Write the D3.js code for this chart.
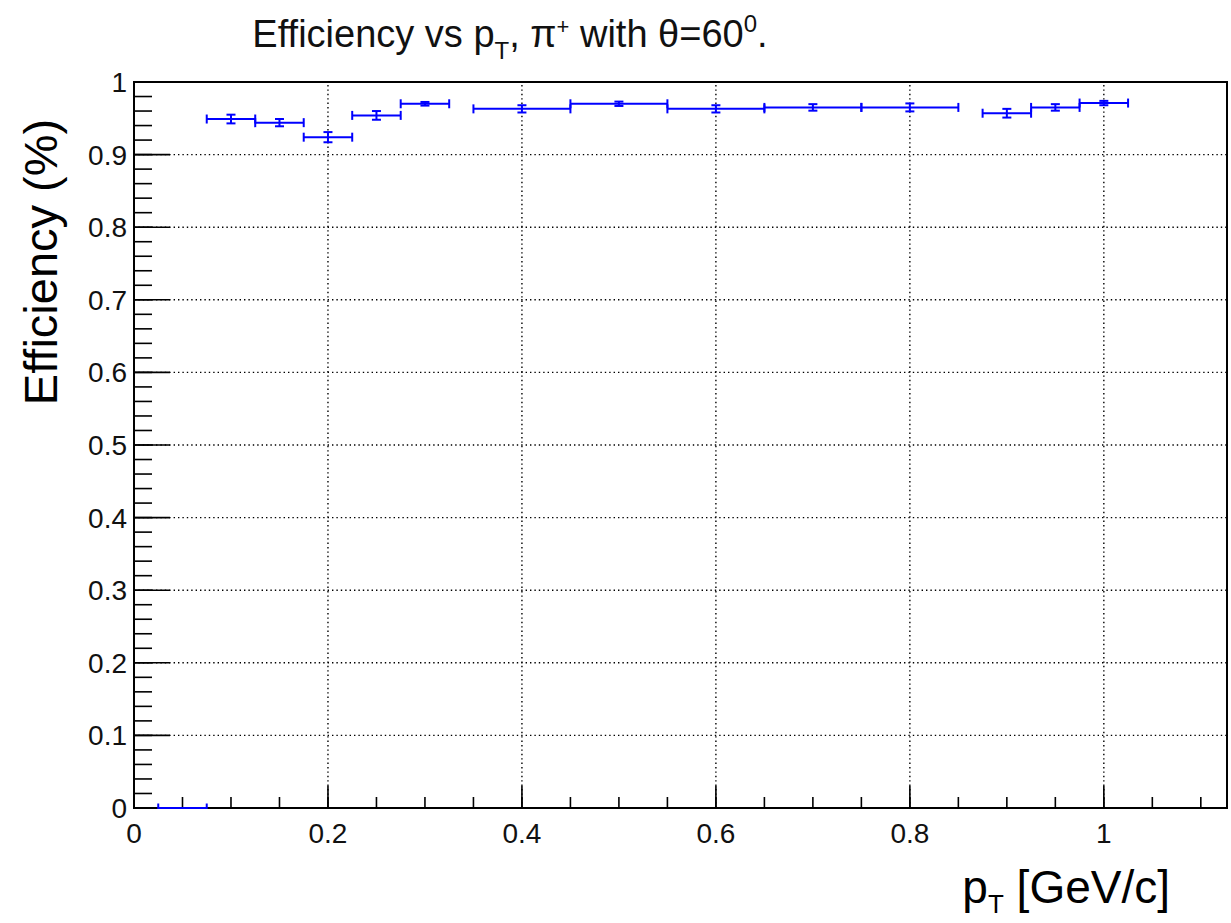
<!DOCTYPE html>
<html><head><meta charset="utf-8">
<script src="https://cdn.jsdelivr.net/npm/d3@7"></script>
<style>body{margin:0;background:#fff}svg{display:block}text{font-family:"Liberation Sans",Arial,sans-serif}</style>
</head><body><div id="c"></div>
<script>
const ptCenter = [0.05, 0.1, 0.15, 0.2, 0.25, 0.3, 0.4, 0.5, 0.6, 0.7, 0.8, 0.9, 0.95, 1.0];
const ptLow    = [0.025, 0.075, 0.125, 0.175, 0.225, 0.275, 0.35, 0.45, 0.55, 0.65, 0.75, 0.875, 0.925, 0.975];
const ptHigh   = [0.075, 0.125, 0.175, 0.225, 0.275, 0.325, 0.45, 0.55, 0.65, 0.75, 0.85, 0.925, 0.975, 1.025];
const efficiency = [0, 0.949, 0.944, 0.924, 0.954, 0.970, 0.963, 0.970, 0.963, 0.965, 0.965, 0.957, 0.965, 0.971];
const effError   = [0, 0.006, 0.005, 0.007, 0.006, 0.0025, 0.005, 0.003, 0.005, 0.0045, 0.0055, 0.006, 0.0045, 0.003];
const xMajorTicks = [0, 0.2, 0.4, 0.6, 0.8, 1];
const xTickLabels = ["0", "0.2", "0.4", "0.6", "0.8", "1"];
const yMajorTicks = [0, 0.1, 0.2, 0.3, 0.4, 0.5, 0.6, 0.7, 0.8, 0.9, 1];
const yTickLabels = ["0", "0.1", "0.2", "0.3", "0.4", "0.5", "0.6", "0.7", "0.8", "0.9", "1"];
const xDomain = [0, 1.127];
const yDomain = [0, 1];

const W = 1231, H = 923;
const L = 134, R = 1227, T = 82, B = 808;
const svg = d3.select("#c").append("svg").attr("width", W).attr("height", H);
const x = d3.scaleLinear().domain(xDomain).range([L, R]);
const y = d3.scaleLinear().domain(yDomain).range([B, T]);

// grid
const g = svg.append("g").attr("stroke", "#000").attr("stroke-width", 1.4).attr("stroke-dasharray", "1.4,3");
xMajorTicks.filter(v => v > 0).forEach(v => g.append("line").attr("x1", x(v)).attr("x2", x(v)).attr("y1", B).attr("y2", T));
yMajorTicks.filter(v => v > 0 && v < 1).forEach(v => g.append("line").attr("y1", y(v)).attr("y2", y(v)).attr("x1", L).attr("x2", R));

// minor ticks
const xMinor = d3.range(0, 1.127, 0.05);
const yMinor = d3.range(0, 1.0001, 0.02);
const tk = svg.append("g").attr("stroke", "#000").attr("stroke-width", 1.6);
xMinor.forEach(v => tk.append("line").attr("x1", x(v)).attr("x2", x(v)).attr("y1", B).attr("y2", B - 11));
xMajorTicks.forEach(v => tk.append("line").attr("x1", x(v)).attr("x2", x(v)).attr("y1", B).attr("y2", B - 22));
yMinor.forEach(v => tk.append("line").attr("y1", y(v)).attr("y2", y(v)).attr("x1", L).attr("x2", L + 18));
yMajorTicks.forEach(v => tk.append("line").attr("y1", y(v)).attr("y2", y(v)).attr("x1", L).attr("x2", L + 36));

// frame
svg.append("rect").attr("x", L).attr("y", T).attr("width", R - L).attr("height", B - T)
  .attr("fill", "none").attr("stroke", "#000").attr("stroke-width", 2);

// tick labels
svg.append("g").selectAll("text").data(xMajorTicks).join("text")
  .attr("x", d => x(d)).attr("y", 843).attr("text-anchor", "middle")
  .attr("font-size", 28).attr("fill", "#111").text((d, i) => xTickLabels[i]);
svg.append("g").selectAll("text").data(yMajorTicks).join("text")
  .attr("x", 127).attr("y", d => y(d) + 10).attr("text-anchor", "end")
  .attr("font-size", 28).attr("fill", "#111").text((d, i) => yTickLabels[i]);

// data
svg.append("clipPath").attr("id", "clip").append("rect").attr("x", L).attr("y", T).attr("width", R - L).attr("height", B - T + 1);
const dg = svg.append("g").attr("clip-path", "url(#clip)").attr("stroke", "#0000ff").attr("stroke-width", 2).attr("fill", "none");
ptCenter.forEach((c, i) => {
  const yy = y(efficiency[i]);
  const x0 = x(ptLow[i]), x1 = x(ptHigh[i]), xc = x(c);
  dg.append("line").attr("x1", x0).attr("x2", x1).attr("y1", yy).attr("y2", yy);
  dg.append("line").attr("x1", x0).attr("x2", x0).attr("y1", yy - 4.5).attr("y2", yy + 4.5);
  dg.append("line").attr("x1", x1).attr("x2", x1).attr("y1", yy - 4.5).attr("y2", yy + 4.5);
  const ylo = y(efficiency[i] - effError[i]), yhi = y(efficiency[i] + effError[i]);
  dg.append("line").attr("x1", xc).attr("x2", xc).attr("y1", ylo).attr("y2", yhi);
  dg.append("line").attr("x1", xc - 4.5).attr("x2", xc + 4.5).attr("y1", ylo).attr("y2", ylo);
  dg.append("line").attr("x1", xc - 4.5).attr("x2", xc + 4.5).attr("y1", yhi).attr("y2", yhi);
});

// titles
const t = svg.append("text").attr("x", 510).attr("y", 47).attr("text-anchor", "middle").attr("font-size", 38).attr("fill", "#111");
t.append("tspan").text("Efficiency vs p");
t.append("tspan").attr("dy", 12).attr("font-size", 24).text("T");
t.append("tspan").attr("dy", -12).text(", π");
t.append("tspan").attr("dy", -13).attr("font-size", 22).text("+");
t.append("tspan").attr("dy", 13).text(" with θ=60");
t.append("tspan").attr("dy", -15).attr("font-size", 24).text("0");
t.append("tspan").attr("dy", 15).text(".");

svg.append("text").attr("transform", "translate(57,262) rotate(-90)").attr("text-anchor", "middle")
  .attr("font-size", 47).text("Efficiency (%)");

const xt = svg.append("text").attr("x", 1170).attr("y", 903).attr("text-anchor", "end").attr("font-size", 46);
xt.append("tspan").text("p");
xt.append("tspan").attr("dy", 10).attr("font-size", 26).text("T");
xt.append("tspan").attr("dy", -10).text(" [GeV/c]");
</script></body></html>
